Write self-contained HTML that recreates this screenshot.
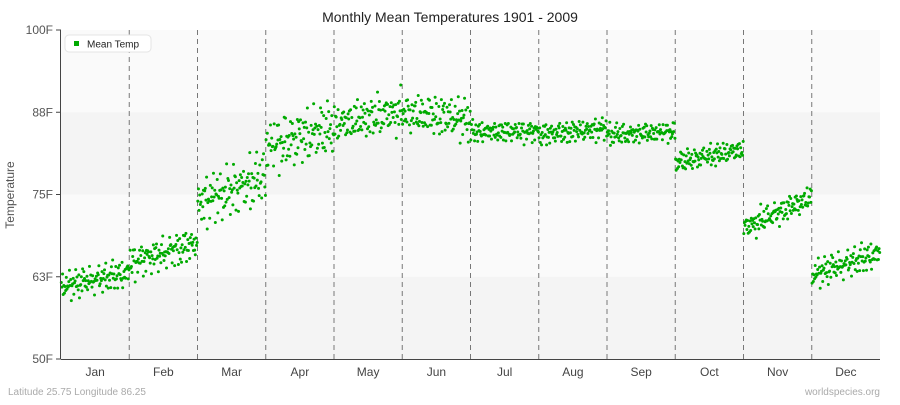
<!DOCTYPE html>
<html><head><meta charset="utf-8">
<style>
body{margin:0;background:#fff;font-family:"Liberation Sans",sans-serif;}
svg text{font-family:"Liberation Sans",sans-serif;}
</style></head>
<body>
<svg id="chart" width="900" height="400" xmlns="http://www.w3.org/2000/svg">
<text x="450" y="22" text-anchor="middle" font-size="14" fill="#222">Monthly Mean Temperatures 1901 - 2009</text>
<text x="14" y="195" transform="rotate(-90 14 195)" text-anchor="middle" font-size="12" fill="#555">Temperature</text>
<g id="plot"></g>
<g id="legend">
<rect x="65" y="35" width="86" height="17" rx="4" fill="#fff" stroke="#e4e4e4"/>
<rect x="74" y="41" width="5" height="5" fill="#00aa00"/>
<text x="87" y="47.5" font-size="10" fill="#222">Mean Temp</text>
</g>
<text x="8" y="395" font-size="10" fill="#aaa">Latitude 25.75 Longitude 86.25</text>
<text x="880" y="395" text-anchor="end" font-size="10" fill="#aaa">worldspecies.org</text>
</svg>
<script>
const months=["Jan","Feb","Mar","Apr","May","Jun","Jul","Aug","Sep","Oct","Nov","Dec"];
const yTicks=[100,87.5,75,62.5,50];
const yTickLabels=["100F","88F","75F","63F","50F"];
const monthStartTemp=[61.0,64.5,73.5,82.0,85.5,87.3,84.5,84.0,84.0,79.8,69.8,62.8];
const monthEndTemp=[63.0,67.5,77.5,85.0,87.5,86.3,84.5,85.0,84.5,81.8,74.5,66.0];
const monthSpread=[1.2,1.4,2.2,2.5,1.8,1.8,0.9,1.0,0.9,1.0,1.1,1.2];
const deviations=[0.2,-0.8,1.1,-0.3,0.6,-1.4,0.9,-0.1,1.6,-0.7,0.3,-1.1,0.0,1.3,-0.5,0.8,-1.8,0.4,-0.2,1.0,-0.9,0.5,-0.4,1.9,-1.2,0.1,0.7,-0.6,1.2,-1.5,0.3,-0.1,0.9,-1.0,1.5,-0.3,0.6];
const deviations2=[0.5,-0.2,-0.9,0.7,0.1,-0.6,1.0,-0.4,0.3,-1.1,0.8,0.0,-0.5,0.6,-0.8,0.2,1.2,-0.3,-1.0,0.4,0.9,-0.7,0.1];
const years=109;
const ns="http://www.w3.org/2000/svg";
const L=61,R=880,T=30,B=359;
const yS=v=>T+(100-v)/50*(B-T);
const mW=(R-L)/12;
const xS=(m,i)=>L+m*mW+(i+0.5)/years*mW;
const plot=document.getElementById('plot');
function mk(t,a){const e=document.createElementNS(ns,t);for(const k in a)e.setAttribute(k,a[k]);plot.appendChild(e);return e;}
const bandCols=["#fafafa","#f4f4f4","#fafafa","#f4f4f4"];
for(let i=0;i<4;i++){const r=mk('rect',{x:L,y:yS(yTicks[i]),width:R-L,height:yS(yTicks[i+1])-yS(yTicks[i]),fill:bandCols[i]});

}
for(let m=1;m<12;m++){const l=mk('line',{x1:L+m*mW,x2:L+m*mW,y1:T,y2:B,stroke:"#777","stroke-dasharray":"5,4","stroke-width":1});

}
for(let m=0;m<12;m++){
 for(let i=0;i<years;i++){
  const base=monthStartTemp[m]+(monthEndTemp[m]-monthStartTemp[m])*i/(years-1);
  const d=deviations[(i+m*7)%deviations.length]+deviations2[(i*3+m*5)%deviations2.length];
  const v=base+d*monthSpread[m]*0.75;
  const c=mk('circle',{cx:xS(m,i),cy:yS(v),r:1.5,fill:"#00aa00"});
  
  
 }
 const t=mk('text',{x:L+(m+0.5)*mW,y:376,"text-anchor":"middle","font-size":12,fill:"#444"});t.textContent=months[m];
 
 
}
const ax=mk('line',{x1:L-0.5,x2:L-0.5,y1:T,y2:B,stroke:"#444"});


const bx=mk('line',{x1:L,x2:R,y1:B+0.5,y2:B+0.5,stroke:"#444"});


yTicks.forEach((v,i)=>{
 const tk=mk('line',{x1:56,x2:L,y1:yS(v),y2:yS(v),stroke:"#444"});
 
 
 const t=mk('text',{x:53,y:yS(v)+4,"text-anchor":"end","font-size":12,fill:"#555"});t.textContent=yTickLabels[i];
 
 
});
</script>
</body></html>
